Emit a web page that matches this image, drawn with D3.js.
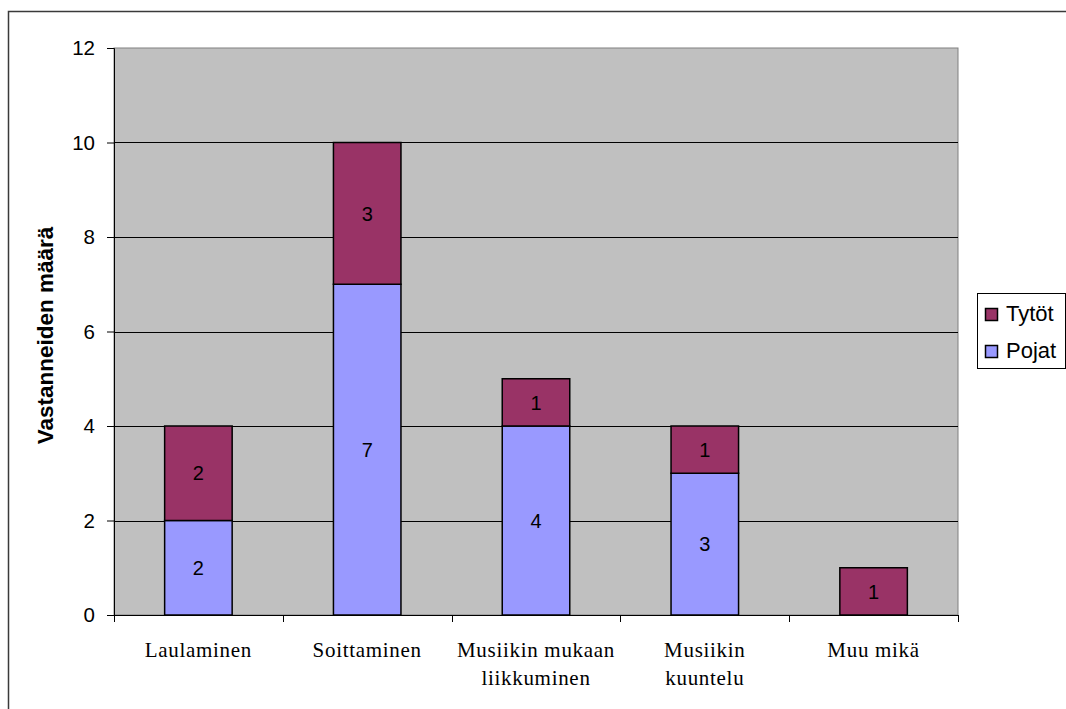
<!DOCTYPE html>
<html>
<head>
<meta charset="utf-8">
<script src="https://cdn.jsdelivr.net/npm/d3@7"></script>
<style>
  html, body { margin: 0; padding: 0; background: #fff; overflow: hidden; }
  svg { display: block; }
</style>
</head>
<body>
<svg id="chart" width="1066" height="709"></svg>
<script>
// Activity categories (multi-line labels split by "\n")
const categories = ["Laulaminen", "Soittaminen", "Musiikin mukaan\nliikkuminen", "Musiikin\nkuuntelu", "Muu mikä"];
// Respondent counts per series
const pojat = [2, 7, 4, 3, 0];
const tytot = [2, 3, 1, 1, 1];
const seriesNames = ["Pojat", "Tytöt"];
const seriesColors = ["#9999FF", "#993366"];
const yTicks = [0, 2, 4, 6, 8, 10, 12];
const yTitle = "Vastanneiden määrä";

const svg = d3.select("#chart");
const plot = { left: 114, top: 48, right: 958, bottom: 615 };

// Outer chart frame (left and top edges fall inside the view)
svg.append("path")
  .attr("d", "M8.5,709 V11.5 H1066")
  .attr("fill", "none").attr("stroke", "#3a3a3a").attr("stroke-width", 1.5);

const x = d3.scaleBand()
  .domain(categories)
  .range([plot.left, plot.right])
  .paddingInner(0.6)
  .paddingOuter(0.3);

const y = d3.scaleLinear()
  .domain([0, 12])
  .range([plot.bottom, plot.top]);

// Plot background
svg.append("rect")
  .attr("x", plot.left).attr("y", plot.top)
  .attr("width", plot.right - plot.left).attr("height", plot.bottom - plot.top)
  .attr("fill", "#C0C0C0")
  .attr("stroke", "#808080").attr("stroke-width", 1);

// Horizontal gridlines
svg.append("g")
  .selectAll("line")
  .data(yTicks.filter(d => d > 0 && d < 12))
  .join("line")
  .attr("x1", plot.left).attr("x2", plot.right)
  .attr("y1", d => Math.round(y(d)) + 0.5).attr("y2", d => Math.round(y(d)) + 0.5)
  .attr("stroke", "#000").attr("stroke-width", 1);

// Stacked data
const rows = categories.map((c, i) => ({ cat: c, Pojat: pojat[i], "Tytöt": tytot[i] }));
const stacked = d3.stack().keys(seriesNames)(rows);

const layers = svg.append("g")
  .selectAll("g")
  .data(stacked)
  .join("g")
  .attr("fill", (d, i) => seriesColors[i]);

layers.selectAll("rect")
  .data(d => d.filter(s => s[1] - s[0] > 0))
  .join("rect")
  .attr("x", d => x(d.data.cat))
  .attr("width", x.bandwidth())
  .attr("y", d => y(d[1]))
  .attr("height", d => y(d[0]) - y(d[1]))
  .attr("stroke", "#000").attr("stroke-width", 1.5);

// Value labels centred in each segment
layers.selectAll("text")
  .data(d => d.filter(s => s[1] - s[0] > 0))
  .join("text")
  .attr("x", d => x(d.data.cat) + x.bandwidth() / 2)
  .attr("y", d => (y(d[0]) + y(d[1])) / 2)
  .attr("dy", "0.36em")
  .attr("text-anchor", "middle")
  .attr("fill", "#000")
  .style("font-family", "Liberation Sans, Arial, sans-serif")
  .style("font-size", "20px")
  .text(d => d[1] - d[0]);

// Y axis
const yAxis = svg.append("g")
  .attr("transform", `translate(${plot.left},0)`)
  .call(d3.axisLeft(y).tickValues(yTicks).tickSize(7).tickPadding(12));
yAxis.select(".domain").attr("stroke", "#000");
yAxis.selectAll(".tick line").attr("stroke", "#000");
yAxis.selectAll(".tick text")
  .attr("fill", "#000")
  .style("font-family", "Liberation Sans, Arial, sans-serif")
  .style("font-size", "20.5px");

// X axis: baseline and ticks at category boundaries
const boundaries = d3.range(categories.length + 1).map(i => plot.left + i * (plot.right - plot.left) / categories.length);
svg.append("line")
  .attr("x1", plot.left).attr("x2", plot.right)
  .attr("y1", plot.bottom + 0.5).attr("y2", plot.bottom + 0.5)
  .attr("stroke", "#000");
svg.append("g")
  .selectAll("line")
  .data(boundaries)
  .join("line")
  .attr("x1", d => Math.round(d) + 0.5).attr("x2", d => Math.round(d) + 0.5)
  .attr("y1", plot.bottom).attr("y2", plot.bottom + 7)
  .attr("stroke", "#000");

// Category labels
const catLabels = svg.append("g")
  .selectAll("text")
  .data(categories)
  .join("text")
  .attr("x", d => x(d) + x.bandwidth() / 2)
  .attr("y", 657)
  .attr("text-anchor", "middle")
  .attr("fill", "#000")
  .style("font-family", "Liberation Serif, 'Times New Roman', serif")
  .style("font-size", "21px")
  .style("letter-spacing", "0.7px");
catLabels.each(function(d) {
  const lines = d.split("\n");
  const t = d3.select(this);
  lines.forEach((ln, i) => {
    t.append("tspan")
      .attr("x", x(d) + x.bandwidth() / 2)
      .attr("dy", i === 0 ? 0 : 28)
      .text(ln);
  });
});

// Y axis title
svg.append("text")
  .attr("transform", `translate(53,${(plot.top + plot.bottom) / 2 + 4}) rotate(-90)`)
  .attr("text-anchor", "middle")
  .attr("fill", "#000")
  .style("font-family", "Liberation Sans, Arial, sans-serif")
  .style("font-size", "22.5px")
  .style("font-weight", "bold")
  .text(yTitle);

// Legend
const legend = svg.append("g");
legend.append("rect")
  .attr("x", 977.5).attr("y", 293.5)
  .attr("width", 88).attr("height", 75)
  .attr("fill", "#fff").attr("stroke", "#000").attr("stroke-width", 1);
const legendOrder = [1, 0]; // Tytöt listed first
legend.selectAll("g")
  .data(legendOrder)
  .join("g")
  .attr("transform", (d, i) => `translate(0,${i * 37})`)
  .each(function(si) {
    const g = d3.select(this);
    g.append("rect")
      .attr("x", 985.5).attr("y", 308.5)
      .attr("width", 12).attr("height", 12)
      .attr("fill", seriesColors[si]).attr("stroke", "#000").attr("stroke-width", 1.5);
    g.append("text")
      .attr("x", 1006).attr("y", 321)
      .attr("fill", "#000")
      .style("font-family", "Liberation Sans, Arial, sans-serif")
      .style("font-size", "22px")
      .text(seriesNames[si]);
  });
</script>
</body>
</html>
